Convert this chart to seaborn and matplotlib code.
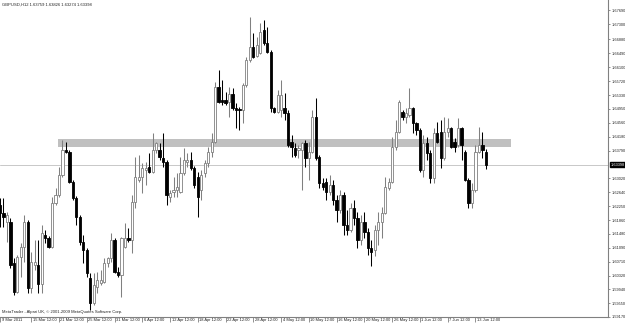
import numpy as np
import pandas as pd
import matplotlib
matplotlib.use("Agg")
import matplotlib.pyplot as plt
import matplotlib.transforms as mtransforms
import seaborn as sns

# ---------------- data (GBPUSD, H12) ----------------
open_ = [1.6228, 1.6206, 1.6181, 1.6181, 1.6067, 1.5987, 1.6084, 1.6112, 1.6181, 1.5998,
         1.6062, 1.6062, 1.6009, 1.6145, 1.6137, 1.6112, 1.6234, 1.6256, 1.6311, 1.6381,
         1.6375, 1.6292, 1.6248, 1.6195, 1.6125, 1.6103, 1.6026, 1.5956, 1.6001, 1.6012,
         1.6014, 1.6067, 1.6081, 1.6131, 1.6042, 1.6034, 1.6112, 1.6137, 1.6131, 1.6236,
         1.6298, 1.6306, 1.6325, 1.6334, 1.6320, 1.6381, 1.6381, 1.6359, 1.6348, 1.6250,
         1.6264, 1.6270, 1.6264, 1.6317, 1.6348, 1.6353, 1.6331, 1.6306, 1.6270, 1.6317,
         1.6345, 1.6375, 1.6403, 1.6556, 1.6520, 1.6520, 1.6514, 1.6536, 1.6497, 1.6495,
         1.6492, 1.6561, 1.6631, 1.6667, 1.6642, 1.6650, 1.6714, 1.6678, 1.6653, 1.6497,
         1.6486, 1.6492, 1.6497, 1.6483, 1.6403, 1.6386, 1.6381, 1.6381, 1.6400, 1.6359,
         1.6375, 1.6472, 1.6361, 1.6289, 1.6292, 1.6264, 1.6284, 1.6242, 1.6214, 1.6256,
         1.6173, 1.6159, 1.6220, 1.6192, 1.6131, 1.6181, 1.6153, 1.6109, 1.6103, 1.6159,
         1.6181, 1.6206, 1.6275, 1.6292, 1.6389, 1.6431, 1.6486, 1.6472, 1.6478, 1.6497,
         1.6456, 1.6436, 1.6325, 1.6400, 1.6372, 1.6303, 1.6428, 1.6431, 1.6359, 1.6431,
         1.6442, 1.6403, 1.6395, 1.6442, 1.6375, 1.6298, 1.6234, 1.6270, 1.6375, 1.6395,
         1.63759]
high = [1.6248, 1.6248, 1.6209, 1.6192, 1.6081, 1.6089, 1.6123, 1.6200, 1.6187, 1.6098,
        1.6131, 1.6131, 1.6173, 1.6159, 1.6142, 1.6250, 1.6275, 1.6334, 1.6409, 1.6403,
        1.6381, 1.6298, 1.6253, 1.6200, 1.6145, 1.6109, 1.6039, 1.6039, 1.6042, 1.6048,
        1.6081, 1.6084, 1.6150, 1.6137, 1.6056, 1.6139, 1.6178, 1.6164, 1.6256, 1.6361,
        1.6367, 1.6345, 1.6348, 1.6372, 1.6428, 1.6403, 1.6400, 1.6428, 1.6353, 1.6270,
        1.6306, 1.6317, 1.6361, 1.6386, 1.6372, 1.6375, 1.6336, 1.6320, 1.6325, 1.6353,
        1.6389, 1.6428, 1.6569, 1.6603, 1.6575, 1.6542, 1.6556, 1.6553, 1.6511, 1.6500,
        1.6567, 1.6639, 1.6750, 1.6705, 1.6694, 1.6733, 1.6742, 1.6722, 1.6658, 1.6500,
        1.6547, 1.6575, 1.6539, 1.6492, 1.6422, 1.6400, 1.6395, 1.6403, 1.6409, 1.6403,
        1.6492, 1.6525, 1.6367, 1.6303, 1.6303, 1.6311, 1.6298, 1.6256, 1.6270, 1.6264,
        1.6214, 1.6234, 1.6242, 1.6209, 1.6200, 1.6209, 1.6164, 1.6131, 1.6173, 1.6209,
        1.6223, 1.6306, 1.6303, 1.6417, 1.6464, 1.6520, 1.6492, 1.6497, 1.6553, 1.6500,
        1.6459, 1.6442, 1.6422, 1.6417, 1.6381, 1.6442, 1.6459, 1.6464, 1.6472, 1.6470,
        1.6445, 1.6414, 1.6470, 1.6445, 1.6381, 1.6303, 1.6289, 1.6395, 1.6445, 1.6431,
        1.63826]
low = [1.6167, 1.6167, 1.6125, 1.6053, 1.5978, 1.5984, 1.6028, 1.6070, 1.5984, 1.5984,
       1.6048, 1.5984, 1.5984, 1.6123, 1.6109, 1.6109, 1.6228, 1.6250, 1.6306, 1.6372,
       1.6289, 1.6242, 1.6173, 1.6117, 1.6067, 1.6028, 1.5937, 1.5951, 1.5984, 1.6006,
       1.6012, 1.6056, 1.6070, 1.6039, 1.6028, 1.5973, 1.6109, 1.6125, 1.6095, 1.6220,
       1.6292, 1.6261, 1.6284, 1.6317, 1.6317, 1.6372, 1.6353, 1.6334, 1.6228, 1.6236,
       1.6250, 1.6250, 1.6261, 1.6311, 1.6334, 1.6325, 1.6275, 1.6195, 1.6242, 1.6306,
       1.6334, 1.6361, 1.6400, 1.6511, 1.6506, 1.6506, 1.6472, 1.6492, 1.6442, 1.6436,
       1.6456, 1.6556, 1.6625, 1.6636, 1.6639, 1.6647, 1.6672, 1.6650, 1.6486, 1.6483,
       1.6483, 1.6472, 1.6464, 1.6389, 1.6361, 1.6361, 1.6359, 1.6270, 1.6334, 1.6298,
       1.6372, 1.6353, 1.6275, 1.6270, 1.6242, 1.6256, 1.6228, 1.6181, 1.6206, 1.6145,
       1.6145, 1.6153, 1.6173, 1.6109, 1.6117, 1.6137, 1.6089, 1.6059, 1.6087, 1.6117,
       1.6137, 1.6203, 1.6270, 1.6289, 1.6381, 1.6428, 1.6464, 1.6456, 1.6472, 1.6428,
       1.6422, 1.6320, 1.6306, 1.6353, 1.6289, 1.6289, 1.6400, 1.6331, 1.6353, 1.6417,
       1.6386, 1.6375, 1.6389, 1.6353, 1.6295, 1.6220, 1.6220, 1.6264, 1.6372, 1.6359,
       1.63274]
close = [1.6206, 1.6195, 1.6200, 1.6062, 1.5987, 1.6084, 1.6112, 1.6181, 1.5998, 1.6070,
         1.6070, 1.6009, 1.6150, 1.6137, 1.6112, 1.6234, 1.6256, 1.6311, 1.6381, 1.6375,
         1.6292, 1.6248, 1.6195, 1.6125, 1.6103, 1.6039, 1.5956, 1.6006, 1.6020, 1.6020,
         1.6067, 1.6081, 1.6131, 1.6042, 1.6034, 1.6137, 1.6137, 1.6131, 1.6236, 1.6306,
         1.6306, 1.6331, 1.6331, 1.6320, 1.6381, 1.6400, 1.6361, 1.6348, 1.6256, 1.6261,
         1.6270, 1.6278, 1.6317, 1.6353, 1.6353, 1.6331, 1.6284, 1.6250, 1.6311, 1.6345,
         1.6375, 1.6403, 1.6556, 1.6514, 1.6514, 1.6511, 1.6536, 1.6497, 1.6492, 1.6492,
         1.6561, 1.6631, 1.6667, 1.6639, 1.6672, 1.6708, 1.6678, 1.6653, 1.6497, 1.6486,
         1.6533, 1.6533, 1.6483, 1.6395, 1.6389, 1.6367, 1.6386, 1.6400, 1.6359, 1.6375,
         1.6472, 1.6359, 1.6289, 1.6278, 1.6264, 1.6284, 1.6242, 1.6214, 1.6256, 1.6173,
         1.6159, 1.6220, 1.6192, 1.6131, 1.6181, 1.6153, 1.6109, 1.6098, 1.6159, 1.6181,
         1.6206, 1.6278, 1.6292, 1.6389, 1.6431, 1.6514, 1.6472, 1.6483, 1.6497, 1.6456,
         1.6436, 1.6325, 1.6400, 1.6372, 1.6303, 1.6428, 1.6403, 1.6359, 1.6431, 1.6442,
         1.6389, 1.6389, 1.6442, 1.6395, 1.6298, 1.6234, 1.6270, 1.6375, 1.6395, 1.6381,
         1.63398]

x_tick_bars = [0, 9, 17, 25, 33, 41, 49, 57, 65, 73, 81, 89, 97, 105, 113, 121, 129, 137]
x_tick_labels = ["9 Mar 2011", "15 Mar 12:00", "21 Mar 12:00", "25 Mar 12:00", "31 Mar 12:00",
                 "6 Apr 12:00", "12 Apr 12:00", "18 Apr 12:00", "22 Apr 12:00", "28 Apr 12:00",
                 "4 May 12:00", "10 May 12:00", "16 May 12:00", "20 May 12:00", "26 May 12:00",
                 "1 Jun 12:00", "7 Jun 12:00", "13 Jun 12:00"]
y_tick_values = [1.67690, 1.67300, 1.66880, 1.66490, 1.66100, 1.65720, 1.65330, 1.64950,
                 1.64560, 1.64180, 1.63790, 1.63020, 1.62640, 1.62250, 1.61860, 1.61480,
                 1.61090, 1.60710, 1.60320, 1.59940, 1.59550, 1.59170]
current_price = 1.63398
band_low, band_high = 1.63896, 1.64118
band_start_bar, band_end_bar = 16.7, 147.3
title_text = "GBPUSD,H12 1.63759 1.63826 1.63274 1.63398"
footer_text = "MetaTrader - Alpari UK, \u00a9 2001-2009 MetaQuotes Software Corp."

df = pd.DataFrame({"open": open_, "high": high, "low": low, "close": close})
df["bar"] = np.arange(len(df))
df["bull"] = df["close"] >= df["open"]

# ---------------- styling ----------------
sns.set_theme(style="white")
plt.rcParams["font.family"] = ["Liberation Sans", "DejaVu Sans"]
FS_X = 2.9
FS_Y = 2.75
FS_T = 3.0

fig = plt.figure(figsize=(6.25, 3.25), dpi=100)
ax = fig.add_axes([0.0, 8 / 325, 608 / 625, 317 / 325])
ax.set_facecolor("white")

bull_col = "#808080"
bear_col = "#000000"

# support/resistance band and current price line
ax.fill_between([band_start_bar, band_end_bar], band_low, band_high,
                color="#c0c0c0", lw=0, zorder=1)
ax.axhline(current_price, color="#c8c8c8", lw=0.7, zorder=0.5)

bull = df[df["bull"]]
bear = df[~df["bull"]]
ax.vlines(bull["bar"], bull["low"], bull["high"], colors=bull_col, lw=0.75, zorder=2)
ax.vlines(bear["bar"], bear["low"], bear["high"], colors=bear_col, lw=0.75, zorder=2)
ax.bar(bull["bar"], bull["close"] - bull["open"], bottom=bull["open"], width=0.62,
       color="white", edgecolor=bull_col, linewidth=0.6, zorder=3)
ax.bar(bear["bar"], bear["close"] - bear["open"], bottom=bear["open"], width=0.66,
       color="black", edgecolor="black", linewidth=0.6, zorder=3)

ax.set_xlim(0, 175.2)
ax.set_ylim(1.6797 - 317 * 0.0002775, 1.6797)

# axes / spines
ax.spines["top"].set_visible(False)
ax.spines["left"].set_visible(False)
for s in ["right", "bottom"]:
    ax.spines[s].set_visible(True)
    ax.spines[s].set_color("#808080")
    ax.spines[s].set_linewidth(0.8)

ax.yaxis.tick_right()
ax.set_yticks(y_tick_values)
ax.set_yticklabels([f"{v:.5f}" for v in y_tick_values])
ax.tick_params(axis="y", which="both", right=True, left=False, direction="out",
               length=1.5, width=0.6, color="#808080", pad=0.8, labelsize=FS_Y,
               labelcolor="#222222")

ax.set_xticks(x_tick_bars)
ax.set_xticklabels(x_tick_labels)
ax.tick_params(axis="x", which="both", bottom=True, direction="out", length=3.5,
               width=0.6, color="#808080", pad=-3.0, labelsize=FS_X, labelcolor="#222222")
offset = mtransforms.ScaledTranslation(1.5 / 100, 0, fig.dpi_scale_trans)
for lbl in ax.get_xticklabels():
    lbl.set_horizontalalignment("left")
    lbl.set_transform(lbl.get_transform() + offset)

ax.grid(False)

# current price box on the price axis
trans = mtransforms.blended_transform_factory(ax.transAxes, ax.transData)
ax.text(1.0045, current_price, f"{current_price:.5f}", transform=trans, ha="left", va="center",
        fontsize=FS_Y, color="white", zorder=5,
        bbox=dict(boxstyle="square,pad=0.2", facecolor="black", edgecolor="black"))

# texts
ax.text(2 / 608, 1 - 5 / 317, title_text, transform=ax.transAxes, ha="left", va="center",
        fontsize=FS_T, color="#222222")
ax.text(2 / 608, 5 / 317, footer_text, transform=ax.transAxes, ha="left", va="center",
        fontsize=FS_T, color="#222222")

fig.savefig("out.png", dpi=100, facecolor="white")
